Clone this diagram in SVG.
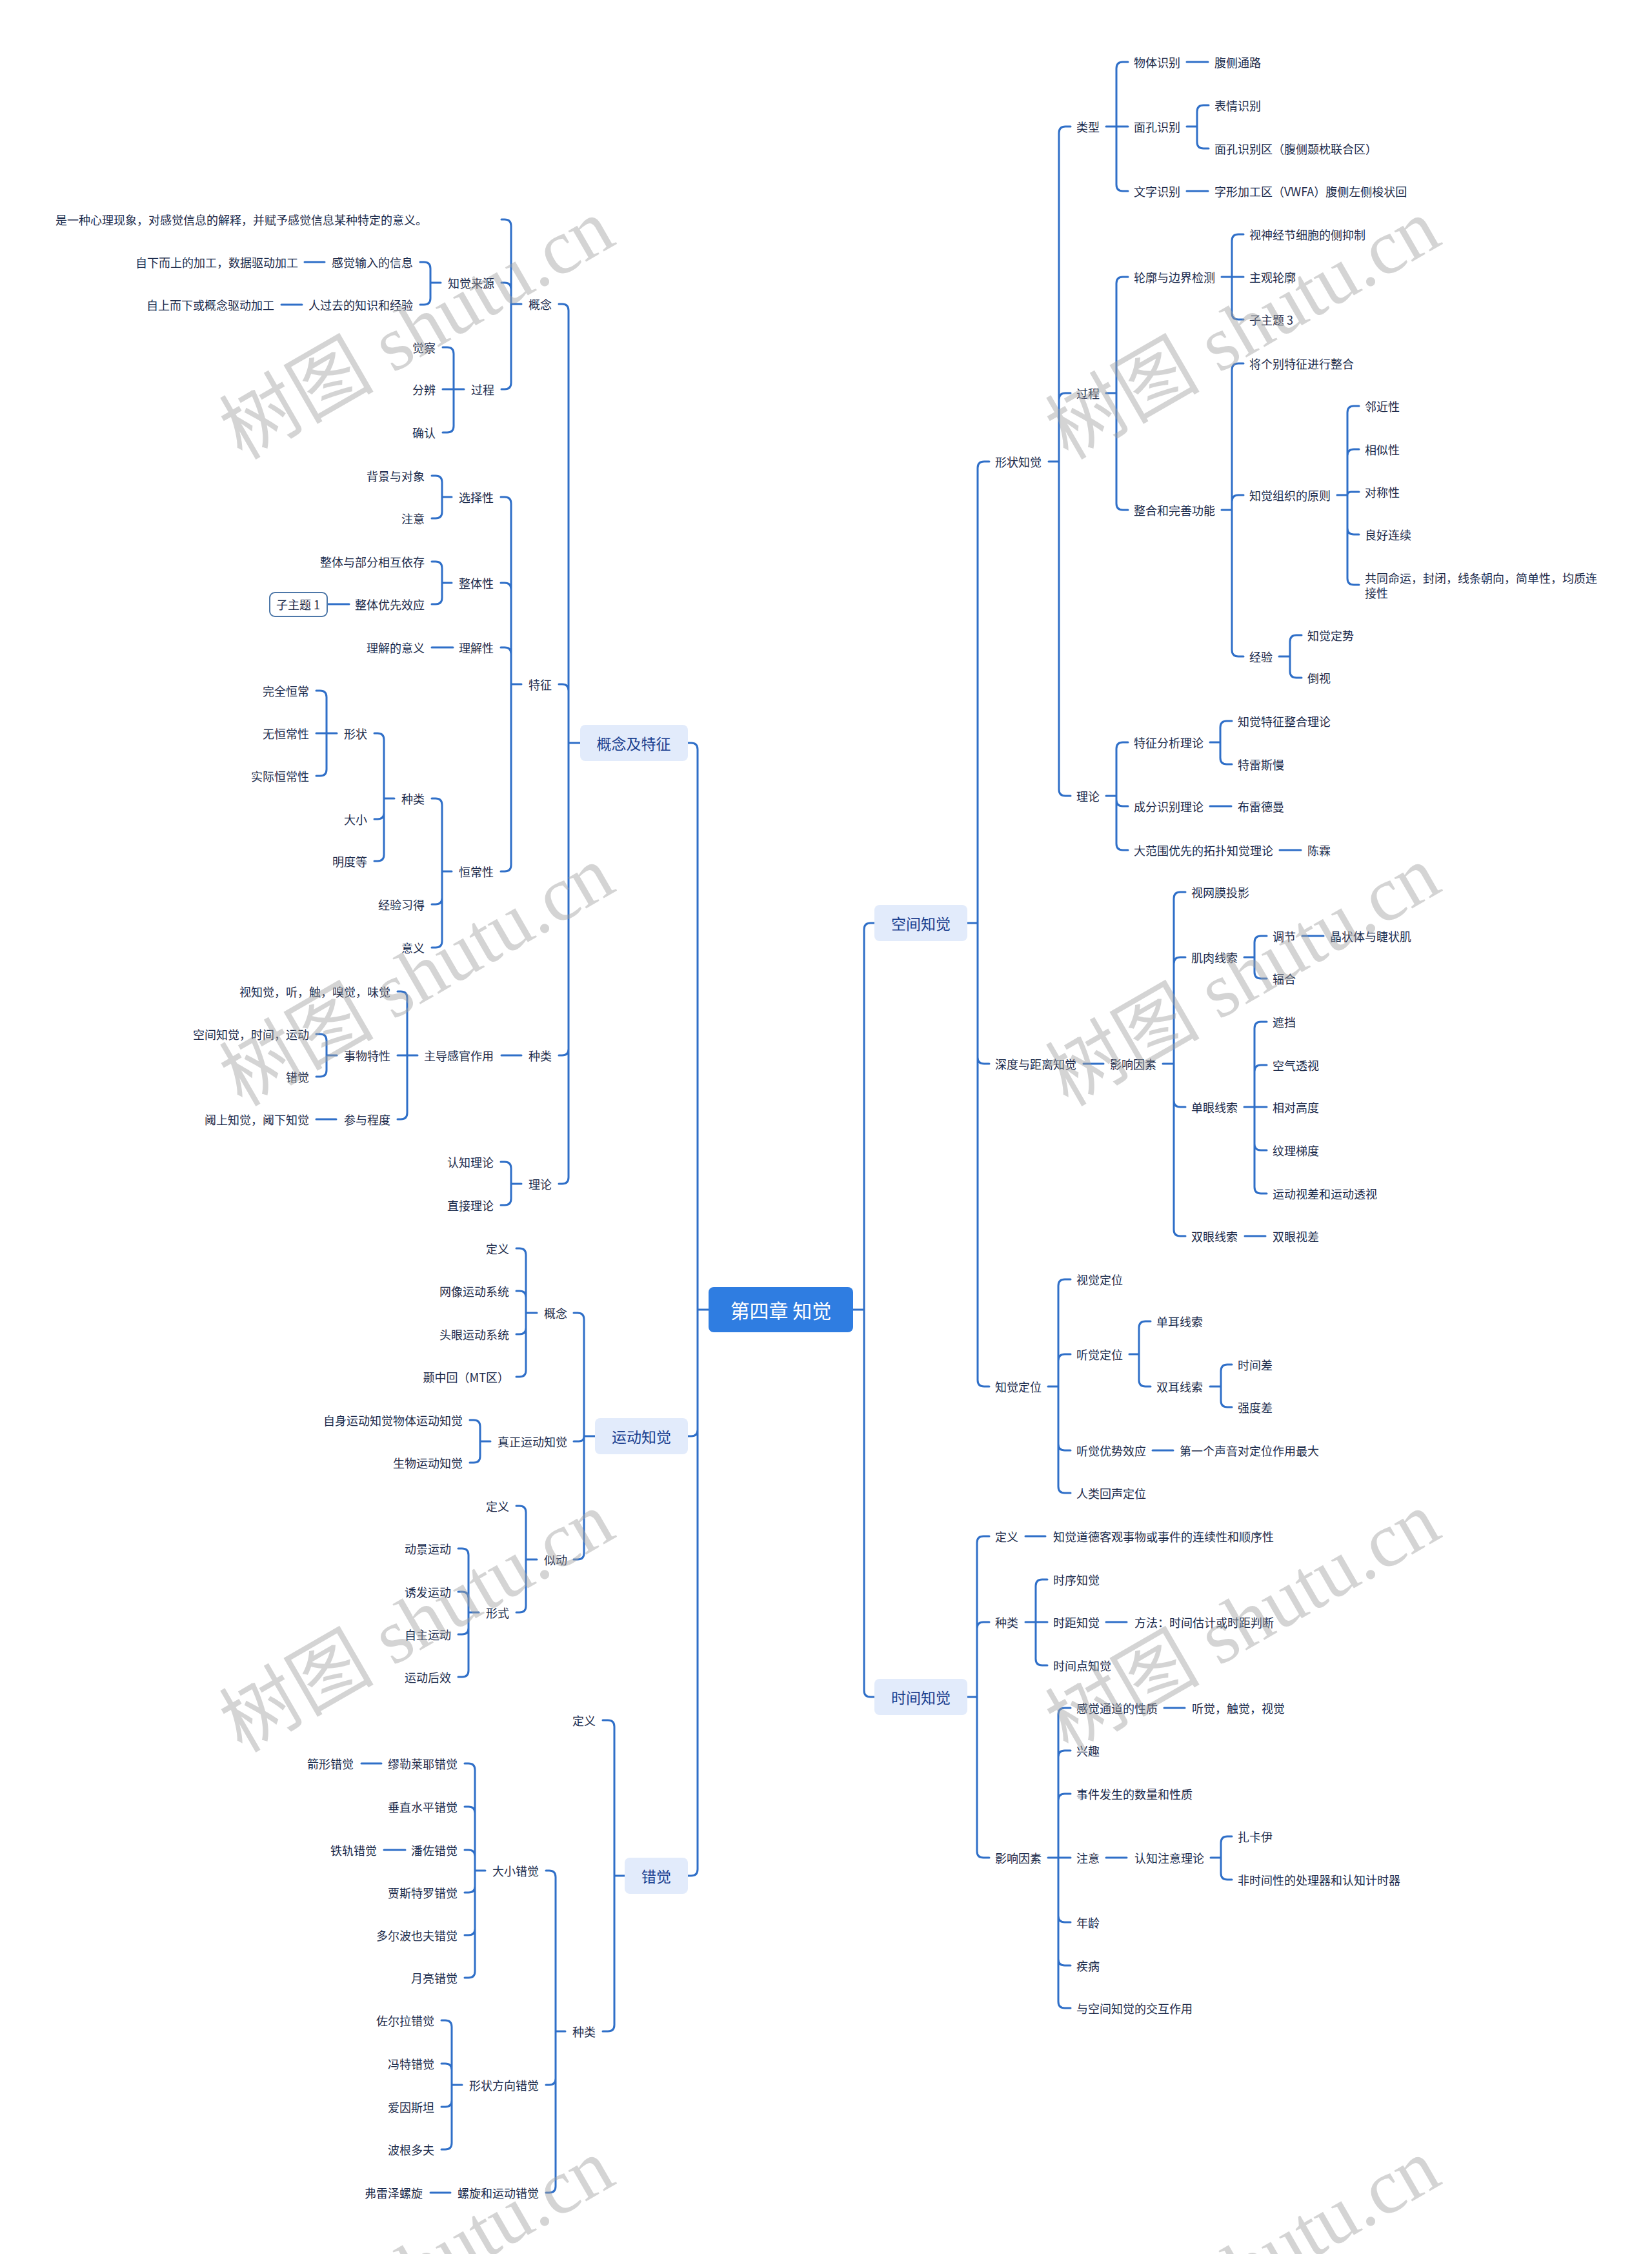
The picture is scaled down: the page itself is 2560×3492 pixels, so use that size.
<svg xmlns="http://www.w3.org/2000/svg" width="2560" height="3492" viewBox="0 0 2560 3492">
<style>
text{font-family:"Noto Sans CJK SC","Noto Sans",sans-serif;dominant-baseline:central}
.t{font-size:18px;fill:#1c2b4b}
.r{text-anchor:end}
#connectors path{fill:none;stroke:#2f6fc8;stroke-width:3;stroke-linecap:round;stroke-linejoin:round}
.b1 rect{fill:#e2ebfb}
.b1 text{font-size:23px;fill:#1b3f8f;text-anchor:middle}
.root rect{fill:#2f7de1}
.root text{font-size:30px;fill:#ffffff;text-anchor:middle}
.sub rect{fill:#ffffff;stroke:#4d77a8;stroke-width:2}
.sub text{text-anchor:middle}
.wm text{font-family:"Liberation Serif","Noto Sans CJK SC",serif;font-size:120px;fill:#a0a0a0;fill-opacity:0.45;text-anchor:middle}
</style>
<rect width="2560" height="3492" fill="#ffffff"/>
<g id="connectors">
<path d="M1322 2029H1339V1440Q1339 1430 1349 1430H1355M1339 2029V2619Q1339 2629 1349 2629H1355"/>
<path d="M1499 1430H1515V725Q1515 715 1525 715H1533M1515 1430V1638Q1515 1648 1525 1648H1533M1515 1430V2138Q1515 2148 1525 2148H1533"/>
<path d="M1625 715H1641V206Q1641 196 1651 196H1659M1641 715V619Q1641 609 1651 609H1659M1641 715V1223Q1641 1233 1651 1233H1659"/>
<path d="M1714 196H1748M1730 196V106Q1730 96 1740 96H1748M1730 196V286Q1730 296 1740 296H1748"/>
<path d="M1839 96H1872"/>
<path d="M1839 196H1855V173Q1855 163 1865 163H1873M1855 196V220Q1855 230 1865 230H1873"/>
<path d="M1839 296H1872"/>
<path d="M1714 609H1730V439Q1730 429 1740 429H1748M1730 609V780Q1730 790 1740 790H1748"/>
<path d="M1893 429H1927M1909 429V373Q1909 363 1919 363H1927M1909 429V485Q1909 495 1919 495H1927"/>
<path d="M1893 790H1909V573Q1909 563 1919 563H1927M1909 790V777Q1909 767 1919 767H1927M1909 790V1007Q1909 1017 1919 1017H1927"/>
<path d="M2072 767H2088V639Q2088 629 2098 629H2106M2088 767V706Q2088 696 2098 696H2106M2088 767Q2088 762 2094 762H2106M2088 767V818Q2088 828 2098 828H2106M2088 767V896Q2088 906 2098 906H2106"/>
<path d="M1982 1017H1999V994Q1999 984 2009 984H2017M1999 1017V1040Q1999 1050 2009 1050H2017"/>
<path d="M1714 1233H1730V1160Q1730 1150 1740 1150H1748M1730 1233V1239Q1730 1249 1740 1249H1748M1730 1233V1307Q1730 1317 1740 1317H1748"/>
<path d="M1875 1150H1891V1127Q1891 1117 1901 1117H1909M1891 1150V1174Q1891 1184 1901 1184H1909"/>
<path d="M1875 1249H1908"/>
<path d="M1983 1317H2016"/>
<path d="M1679 1648H1710"/>
<path d="M1802 1648H1819V1392Q1819 1382 1829 1382H1837M1819 1648V1493Q1819 1483 1829 1483H1837M1819 1648V1705Q1819 1715 1829 1715H1837M1819 1648V1905Q1819 1915 1829 1915H1837"/>
<path d="M1928 1483H1944V1460Q1944 1450 1954 1450H1963M1944 1483V1506Q1944 1516 1954 1516H1963"/>
<path d="M2018 1450H2051"/>
<path d="M1928 1715H1963M1944 1715V1593Q1944 1583 1954 1583H1963M1944 1715V1660Q1944 1650 1954 1650H1963M1944 1715V1772Q1944 1782 1954 1782H1963M1944 1715V1839Q1944 1849 1954 1849H1963"/>
<path d="M1929 1915H1961"/>
<path d="M1624 2148H1640V1992Q1640 1982 1650 1982H1659M1640 2148V2108Q1640 2098 1650 2098H1659M1640 2148V2237Q1640 2247 1650 2247H1659M1640 2148V2303Q1640 2313 1650 2313H1659"/>
<path d="M1750 2098H1765V2057Q1765 2047 1775 2047H1783M1765 2098V2138Q1765 2148 1775 2148H1783"/>
<path d="M1875 2148H1892V2124Q1892 2114 1902 2114H1909M1892 2148V2170Q1892 2180 1902 2180H1909"/>
<path d="M1786 2247H1818"/>
<path d="M1499 2629H1514V2390Q1514 2380 1524 2380H1533M1514 2629V2523Q1514 2513 1524 2513H1533M1514 2629V2868Q1514 2878 1524 2878H1533"/>
<path d="M1589 2380H1620"/>
<path d="M1589 2513H1623M1605 2513V2457Q1605 2447 1615 2447H1623M1605 2513V2570Q1605 2580 1615 2580H1623"/>
<path d="M1714 2513H1746"/>
<path d="M1624 2878H1659M1640 2878V2656Q1640 2646 1650 2646H1659M1640 2878V2722Q1640 2712 1650 2712H1659M1640 2878V2789Q1640 2779 1650 2779H1659M1640 2878V2968Q1640 2978 1650 2978H1659M1640 2878V3035Q1640 3045 1650 3045H1659M1640 2878V3101Q1640 3111 1650 3111H1659"/>
<path d="M1804 2646H1836"/>
<path d="M1714 2878H1746"/>
<path d="M1876 2878H1892V2855Q1892 2845 1902 2845H1909M1892 2878V2902Q1892 2912 1902 2912H1909"/>
<path d="M1098 2029H1081V1161Q1081 1151 1071 1151H1066M1081 2029V2215Q1081 2225 1071 2225H1066M1081 2029V2896Q1081 2906 1071 2906H1066"/>
<path d="M899 1151H881V481Q881 471 871 471H866M881 1151V1070Q881 1060 871 1060H866M881 1151V1625Q881 1635 871 1635H866M881 1151V1824Q881 1834 871 1834H866"/>
<path d="M808 471H792V350Q792 340 782 340H777M792 471V448Q792 438 782 438H777M792 471V593Q792 603 782 603H777"/>
<path d="M683 438H667V416Q667 406 657 406H651M667 438V462Q667 472 657 472H651"/>
<path d="M503 406H472"/>
<path d="M468 472H436"/>
<path d="M719 603H686M703 603V548Q703 538 693 538H686M703 603V660Q703 670 693 670H686"/>
<path d="M808 1060H792V780Q792 770 782 770H776M792 1060V913Q792 903 782 903H776M792 1060V1013Q792 1003 782 1003H776M792 1060V1340Q792 1350 782 1350H776"/>
<path d="M700 770H685V747Q685 737 675 737H669M685 770V793Q685 803 675 803H669"/>
<path d="M700 903H685V880Q685 870 675 870H669M685 903V926Q685 936 675 936H669"/>
<path d="M541 936H508"/>
<path d="M702 1003H669"/>
<path d="M700 1350H685V1247Q685 1237 675 1237H669M685 1350V1391Q685 1401 675 1401H669M685 1350V1458Q685 1468 675 1468H669"/>
<path d="M611 1237H595V1146Q595 1136 585 1136H580M595 1237V1259Q595 1269 585 1269H580M595 1237V1324Q595 1334 585 1334H580"/>
<path d="M522 1136H490M506 1136V1080Q506 1070 496 1070H490M506 1136V1192Q506 1202 496 1202H490"/>
<path d="M808 1635H777"/>
<path d="M647 1635H616M631 1635V1546Q631 1536 621 1536H616M631 1635V1724Q631 1734 621 1734H616"/>
<path d="M522 1635H506V1612Q506 1602 496 1602H490M506 1635V1658Q506 1668 496 1668H490"/>
<path d="M521 1734H490"/>
<path d="M808 1834H792V1810Q792 1800 782 1800H776M792 1834V1857Q792 1867 782 1867H776"/>
<path d="M922 2225H905V2044Q905 2034 895 2034H889M905 2225Q905 2233 897 2233H889M905 2225V2406Q905 2416 895 2416H889"/>
<path d="M832 2034H815V1944Q815 1934 805 1934H800M815 2034V2010Q815 2000 805 2000H800M815 2034V2057Q815 2067 805 2067H800M815 2034V2123Q815 2133 805 2133H800"/>
<path d="M760 2233H744V2210Q744 2200 734 2200H728M744 2233V2256Q744 2266 734 2266H728"/>
<path d="M832 2416H815V2343Q815 2333 805 2333H800M815 2416V2488Q815 2498 805 2498H800"/>
<path d="M742 2498H726V2409Q726 2399 716 2399H710M726 2498V2476Q726 2466 716 2466H710M726 2498V2522Q726 2532 716 2532H710M726 2498V2588Q726 2598 716 2598H710"/>
<path d="M968 2906H952V2675Q952 2665 942 2665H934M952 2906V3137Q952 3147 942 3147H934"/>
<path d="M876 3147H861V2908Q861 2898 851 2898H846M861 3147V3220Q861 3230 851 3230H846M861 3147V3387Q861 3397 851 3397H846"/>
<path d="M752 2898H736V2742Q736 2732 726 2732H720M736 2898V2809Q736 2799 726 2799H720M736 2898V2876Q736 2866 726 2866H720M736 2898V2922Q736 2932 726 2932H720M736 2898V2988Q736 2998 726 2998H720M736 2898V3054Q736 3064 726 3064H720"/>
<path d="M591 2732H560"/>
<path d="M628 2866H595"/>
<path d="M716 3230H700V3140Q700 3130 690 3130H684M700 3230V3207Q700 3197 690 3197H684M700 3230V3254Q700 3264 690 3264H684M700 3230V3320Q700 3330 690 3330H684"/>
<path d="M698 3397H667"/>
</g>
<g id="root" class="root"><rect x="1098" y="1994" width="224" height="70" rx="8"/><text x="1210" y="2029">第四章 知觉</text></g>
<g id="b-gainian" class="b1"><rect x="899" y="1123" width="167" height="56" rx="8"/><text x="982" y="1151">概念及特征</text></g>
<g id="b-yundong" class="b1"><rect x="922" y="2197" width="144" height="56" rx="8"/><text x="994" y="2225">运动知觉</text></g>
<g id="b-cuojue" class="b1"><rect x="968" y="2878" width="98" height="56" rx="8"/><text x="1017" y="2906">错觉</text></g>
<g id="b-kongjian" class="b1"><rect x="1355" y="1402" width="144" height="56" rx="8"/><text x="1427" y="1430">空间知觉</text></g>
<g id="b-shijian" class="b1"><rect x="1355" y="2601" width="144" height="56" rx="8"/><text x="1427" y="2629">时间知觉</text></g>
<g id="r-nodes" class="t">
<g id="n101"><text class="t" x="1542" y="715">形状知觉</text></g>
<g id="n102"><text class="t" x="1542" y="1648">深度与距离知觉</text></g>
<g id="n103"><text class="t" x="1542" y="2148">知觉定位</text></g>
<g id="n104"><text class="t" x="1668" y="196">类型</text></g>
<g id="n105"><text class="t" x="1668" y="609">过程</text></g>
<g id="n106"><text class="t" x="1668" y="1233">理论</text></g>
<g id="n107"><text class="t" x="1757" y="96">物体识别</text></g>
<g id="n108"><text class="t" x="1882" y="96">腹侧通路</text></g>
<g id="n109"><text class="t" x="1757" y="196">面孔识别</text></g>
<g id="n110"><text class="t" x="1882" y="163">表情识别</text></g>
<g id="n111"><text class="t" x="1882" y="230">面孔识别区（腹侧颞枕联合区）</text></g>
<g id="n112"><text class="t" x="1757" y="296">文字识别</text></g>
<g id="n113"><text class="t" x="1882" y="296">字形加工区（VWFA）腹侧左侧梭状回</text></g>
<g id="n114"><text class="t" x="1757" y="429">轮廓与边界检测</text></g>
<g id="n115"><text class="t" x="1936" y="363">视神经节细胞的侧抑制</text></g>
<g id="n116"><text class="t" x="1936" y="429">主观轮廓</text></g>
<g id="n117"><text class="t" x="1936" y="495">子主题 3</text></g>
<g id="n118"><text class="t" x="1757" y="790">整合和完善功能</text></g>
<g id="n119"><text class="t" x="1936" y="563">将个别特征进行整合</text></g>
<g id="n120"><text class="t" x="1936" y="767">知觉组织的原则</text></g>
<g id="n121"><text class="t" x="2115" y="629">邻近性</text></g>
<g id="n122"><text class="t" x="2115" y="696">相似性</text></g>
<g id="n123"><text class="t" x="2115" y="762">对称性</text></g>
<g id="n124"><text class="t" x="2115" y="828">良好连续</text></g>
<g id="n125"><text class="t" x="2115" y="895">共同命运，封闭，线条朝向，简单性，均质连</text><text class="t" x="2115" y="918">接性</text></g>
<g id="n126"><text class="t" x="1936" y="1017">经验</text></g>
<g id="n127"><text class="t" x="2026" y="984">知觉定势</text></g>
<g id="n128"><text class="t" x="2026" y="1050">倒视</text></g>
<g id="n129"><text class="t" x="1757" y="1150">特征分析理论</text></g>
<g id="n130"><text class="t" x="1918" y="1117">知觉特征整合理论</text></g>
<g id="n131"><text class="t" x="1918" y="1184">特雷斯慢</text></g>
<g id="n132"><text class="t" x="1757" y="1249">成分识别理论</text></g>
<g id="n133"><text class="t" x="1918" y="1249">布雷德曼</text></g>
<g id="n134"><text class="t" x="1757" y="1317">大范围优先的拓扑知觉理论</text></g>
<g id="n135"><text class="t" x="2026" y="1317">陈霖</text></g>
<g id="n136"><text class="t" x="1720" y="1648">影响因素</text></g>
<g id="n137"><text class="t" x="1846" y="1382">视网膜投影</text></g>
<g id="n138"><text class="t" x="1846" y="1483">肌肉线索</text></g>
<g id="n139"><text class="t" x="1972" y="1450">调节</text></g>
<g id="n140"><text class="t" x="2061" y="1450">晶状体与睫状肌</text></g>
<g id="n141"><text class="t" x="1972" y="1516">辐合</text></g>
<g id="n142"><text class="t" x="1846" y="1715">单眼线索</text></g>
<g id="n143"><text class="t" x="1972" y="1583">遮挡</text></g>
<g id="n144"><text class="t" x="1972" y="1650">空气透视</text></g>
<g id="n145"><text class="t" x="1972" y="1715">相对高度</text></g>
<g id="n146"><text class="t" x="1972" y="1782">纹理梯度</text></g>
<g id="n147"><text class="t" x="1972" y="1849">运动视差和运动透视</text></g>
<g id="n148"><text class="t" x="1846" y="1915">双眼线索</text></g>
<g id="n149"><text class="t" x="1972" y="1915">双眼视差</text></g>
<g id="n150"><text class="t" x="1668" y="1982">视觉定位</text></g>
<g id="n151"><text class="t" x="1668" y="2098">听觉定位</text></g>
<g id="n152"><text class="t" x="1792" y="2047">单耳线索</text></g>
<g id="n153"><text class="t" x="1792" y="2148">双耳线索</text></g>
<g id="n154"><text class="t" x="1918" y="2114">时间差</text></g>
<g id="n155"><text class="t" x="1918" y="2180">强度差</text></g>
<g id="n156"><text class="t" x="1668" y="2247">听觉优势效应</text></g>
<g id="n157"><text class="t" x="1828" y="2247">第一个声音对定位作用最大</text></g>
<g id="n158"><text class="t" x="1668" y="2313">人类回声定位</text></g>
<g id="n159"><text class="t" x="1542" y="2380">定义</text></g>
<g id="n160"><text class="t" x="1632" y="2380">知觉道德客观事物或事件的连续性和顺序性</text></g>
<g id="n161"><text class="t" x="1542" y="2513">种类</text></g>
<g id="n162"><text class="t" x="1632" y="2447">时序知觉</text></g>
<g id="n163"><text class="t" x="1632" y="2513">时距知觉</text></g>
<g id="n164"><text class="t" x="1758" y="2513">方法：时间估计或时距判断</text></g>
<g id="n165"><text class="t" x="1632" y="2580">时间点知觉</text></g>
<g id="n166"><text class="t" x="1542" y="2878">影响因素</text></g>
<g id="n167"><text class="t" x="1668" y="2646">感觉通道的性质</text></g>
<g id="n168"><text class="t" x="1847" y="2646">听觉，触觉，视觉</text></g>
<g id="n169"><text class="t" x="1668" y="2712">兴趣</text></g>
<g id="n170"><text class="t" x="1668" y="2779">事件发生的数量和性质</text></g>
<g id="n171"><text class="t" x="1668" y="2878">注意</text></g>
<g id="n172"><text class="t" x="1758" y="2878">认知注意理论</text></g>
<g id="n173"><text class="t" x="1918" y="2845">扎卡伊</text></g>
<g id="n174"><text class="t" x="1918" y="2912">非时间性的处理器和认知计时器</text></g>
<g id="n175"><text class="t" x="1668" y="2978">年龄</text></g>
<g id="n176"><text class="t" x="1668" y="3045">疾病</text></g>
<g id="n177"><text class="t" x="1668" y="3111">与空间知觉的交互作用</text></g>
</g>
<g id="l-nodes">
<g id="n201"><text class="t r" x="855" y="471">概念</text></g>
<g id="n202"><text class="t r" x="855" y="1060">特征</text></g>
<g id="n203"><text class="t r" x="855" y="1635">种类</text></g>
<g id="n204"><text class="t r" x="855" y="1834">理论</text></g>
<g id="n205"><text class="t" x="86" y="340">是一种心理现象，对感觉信息的解释，并赋予感觉信息某种特定的意义。</text></g>
<g id="n206"><text class="t r" x="766" y="438">知觉来源</text></g>
<g id="n207"><text class="t r" x="640" y="406">感觉输入的信息</text></g>
<g id="n208"><text class="t r" x="462" y="406">自下而上的加工，数据驱动加工</text></g>
<g id="n209"><text class="t r" x="640" y="472">人过去的知识和经验</text></g>
<g id="n210"><text class="t r" x="425" y="472">自上而下或概念驱动加工</text></g>
<g id="n211"><text class="t r" x="766" y="603">过程</text></g>
<g id="n212"><text class="t r" x="675" y="538">觉察</text></g>
<g id="n213"><text class="t r" x="675" y="603">分辨</text></g>
<g id="n214"><text class="t r" x="675" y="670">确认</text></g>
<g id="n215"><text class="t r" x="765" y="770">选择性</text></g>
<g id="n216"><text class="t r" x="658" y="737">背景与对象</text></g>
<g id="n217"><text class="t r" x="658" y="803">注意</text></g>
<g id="n218"><text class="t r" x="765" y="903">整体性</text></g>
<g id="n219"><text class="t r" x="658" y="870">整体与部分相互依存</text></g>
<g id="n220"><text class="t r" x="658" y="936">整体优先效应</text></g>
<g id="n221" class="sub"><rect x="418" y="918" width="89" height="37" rx="8"/><text class="t" x="462" y="936">子主题 1</text></g>
<g id="n222"><text class="t r" x="765" y="1003">理解性</text></g>
<g id="n223"><text class="t r" x="658" y="1003">理解的意义</text></g>
<g id="n224"><text class="t r" x="765" y="1350">恒常性</text></g>
<g id="n225"><text class="t r" x="658" y="1237">种类</text></g>
<g id="n226"><text class="t r" x="569" y="1136">形状</text></g>
<g id="n227"><text class="t r" x="479" y="1070">完全恒常</text></g>
<g id="n228"><text class="t r" x="479" y="1136">无恒常性</text></g>
<g id="n229"><text class="t r" x="479" y="1202">实际恒常性</text></g>
<g id="n230"><text class="t r" x="569" y="1269">大小</text></g>
<g id="n231"><text class="t r" x="569" y="1334">明度等</text></g>
<g id="n232"><text class="t r" x="658" y="1401">经验习得</text></g>
<g id="n233"><text class="t r" x="658" y="1468">意义</text></g>
<g id="n234"><text class="t r" x="765" y="1635">主导感官作用</text></g>
<g id="n235"><text class="t r" x="605" y="1536">视知觉，听，触，嗅觉，味觉</text></g>
<g id="n236"><text class="t r" x="605" y="1635">事物特性</text></g>
<g id="n237"><text class="t r" x="479" y="1602">空间知觉，时间，运动</text></g>
<g id="n238"><text class="t r" x="479" y="1668">错觉</text></g>
<g id="n239"><text class="t r" x="605" y="1734">参与程度</text></g>
<g id="n240"><text class="t r" x="479" y="1734">阈上知觉，阈下知觉</text></g>
<g id="n241"><text class="t r" x="765" y="1800">认知理论</text></g>
<g id="n242"><text class="t r" x="765" y="1867">直接理论</text></g>
<g id="n243"><text class="t r" x="879" y="2034">概念</text></g>
<g id="n244"><text class="t r" x="879" y="2233">真正运动知觉</text></g>
<g id="n245"><text class="t r" x="879" y="2416">似动</text></g>
<g id="n246"><text class="t r" x="789" y="1934">定义</text></g>
<g id="n247"><text class="t r" x="789" y="2000">网像运动系统</text></g>
<g id="n248"><text class="t r" x="789" y="2067">头眼运动系统</text></g>
<g id="n249"><text class="t r" x="789" y="2133">颞中回（MT区）</text></g>
<g id="n250"><text class="t r" x="717" y="2200">自身运动知觉物体运动知觉</text></g>
<g id="n251"><text class="t r" x="717" y="2266">生物运动知觉</text></g>
<g id="n252"><text class="t r" x="789" y="2333">定义</text></g>
<g id="n253"><text class="t r" x="789" y="2498">形式</text></g>
<g id="n254"><text class="t r" x="699" y="2399">动景运动</text></g>
<g id="n255"><text class="t r" x="699" y="2466">诱发运动</text></g>
<g id="n256"><text class="t r" x="699" y="2532">自主运动</text></g>
<g id="n257"><text class="t r" x="699" y="2598">运动后效</text></g>
<g id="n258"><text class="t r" x="923" y="2665">定义</text></g>
<g id="n259"><text class="t r" x="923" y="3147">种类</text></g>
<g id="n260"><text class="t r" x="835" y="2898">大小错觉</text></g>
<g id="n261"><text class="t r" x="835" y="3230">形状方向错觉</text></g>
<g id="n262"><text class="t r" x="835" y="3397">螺旋和运动错觉</text></g>
<g id="n263"><text class="t r" x="709" y="2732">缪勒莱耶错觉</text></g>
<g id="n264"><text class="t r" x="548" y="2732">箭形错觉</text></g>
<g id="n265"><text class="t r" x="709" y="2799">垂直水平错觉</text></g>
<g id="n266"><text class="t r" x="709" y="2866">潘佐错觉</text></g>
<g id="n267"><text class="t r" x="584" y="2866">铁轨错觉</text></g>
<g id="n268"><text class="t r" x="709" y="2932">贾斯特罗错觉</text></g>
<g id="n269"><text class="t r" x="709" y="2998">多尔波也夫错觉</text></g>
<g id="n270"><text class="t r" x="709" y="3064">月亮错觉</text></g>
<g id="n271"><text class="t r" x="673" y="3130">佐尔拉错觉</text></g>
<g id="n272"><text class="t r" x="673" y="3197">冯特错觉</text></g>
<g id="n273"><text class="t r" x="673" y="3264">爱因斯坦</text></g>
<g id="n274"><text class="t r" x="673" y="3330">波根多夫</text></g>
<g id="n275"><text class="t r" x="655" y="3397">弗雷泽螺旋</text></g>
</g>
<g id="watermarks" class="wm">
<text transform="translate(646 510) rotate(-30)">树图 shutu.cn</text>
<text transform="translate(1926 510) rotate(-30)">树图 shutu.cn</text>
<text transform="translate(646 1512) rotate(-30)">树图 shutu.cn</text>
<text transform="translate(1926 1512) rotate(-30)">树图 shutu.cn</text>
<text transform="translate(646 2513) rotate(-30)">树图 shutu.cn</text>
<text transform="translate(1926 2513) rotate(-30)">树图 shutu.cn</text>
<text transform="translate(646 3515) rotate(-30)">树图 shutu.cn</text>
<text transform="translate(1926 3515) rotate(-30)">树图 shutu.cn</text>
</g>
</svg>
